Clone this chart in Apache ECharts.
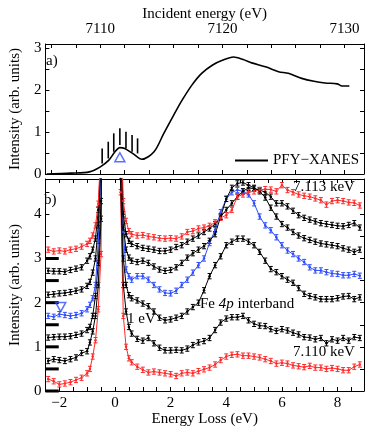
<!DOCTYPE html>
<html>
<head>
<meta charset="utf-8">
<style>
html, body { margin: 0; padding: 0; background: #fff; }
#chart { width: 374px; height: 428px; }
</style>
<script src="https://cdn.jsdelivr.net/npm/echarts@6/dist/echarts.min.js"></script>
</head>
<body>
<div id="chart"></div>
<script>
// ---- panel a) PFY-XANES ----
var xanesE = [7105.6, 7107.6, 7109.1, 7110.0, 7110.7, 7111.2, 7111.6, 7112.0, 7112.7, 7113.4,
    7114.4, 7115.2, 7116.0, 7116.7, 7117.5, 7118.3, 7119.2, 7120.0, 7120.9, 7121.7,
    7122.4, 7123.6, 7124.6, 7125.4, 7126.5, 7127.5, 7128.4, 7129.4, 7129.8, 7130.4];
var xanesI = [0.00, 0.02, 0.05, 0.17, 0.33, 0.53, 0.63, 0.61, 0.48, 0.35,
    0.53, 0.97, 1.40, 1.76, 2.12, 2.40, 2.60, 2.71, 2.79, 2.73,
    2.65, 2.55, 2.44, 2.40, 2.28, 2.21, 2.17, 2.15, 2.10, 2.10];

// incident energies of the RIXS cuts (vertical bars)
var barE = [7110.15, 7110.65, 7111.1, 7111.6, 7112.1, 7112.6, 7113.05];
var barLow = [0.25, 0.37, 0.53, 0.69, 0.61, 0.53, 0.49];
var barHigh = [0.61, 0.77, 0.97, 1.09, 1.01, 0.93, 0.85];
var triA = [7111.6, 0.40];

var tickAx = [7110, 7120, 7130];
var tickAy = [0, 1, 2, 3];

// ---- panel b) RIXS spectra, offset by 0.5 ----
var loss = [-2.4, -2.2, -2.0, -1.8, -1.6, -1.4, -1.2, -1.0, -0.9, -0.8, -0.7, -0.6, -0.5, -0.15, 0.2,
    0.3, 0.4, 0.5, 0.6, 0.8, 1.0, 1.2, 1.4, 1.6, 1.8, 2.0, 2.2, 2.4, 2.6, 2.8,
    3.0, 3.2, 3.4, 3.6, 3.8, 4.0, 4.2, 4.4, 4.6, 4.8, 5.0, 5.2, 5.4, 5.6, 5.8,
    6.0, 6.2, 6.4, 6.6, 6.8, 7.0, 7.2, 7.4, 7.6, 7.8, 8.0, 8.2, 8.4, 8.6, 8.8];

var spec7110 = [0.27, 0.22, 0.15, 0.17, 0.20, 0.25, 0.30, 0.40, 0.50, 0.78, 1.15, 1.85, 3.10, 60, 4.50,
    1.70, 1.00, 0.74, 0.65, 0.55, 0.48, 0.42, 0.44, 0.42, 0.40, 0.38, 0.34, 0.40, 0.42, 0.40,
    0.45, 0.49, 0.53, 0.60, 0.70, 0.78, 0.82, 0.83, 0.80, 0.80, 0.78, 0.76, 0.72, 0.68, 0.62,
    0.64, 0.62, 0.58, 0.56, 0.54, 0.57, 0.53, 0.53, 0.50, 0.52, 0.50, 0.47, 0.47, 0.55, 0.60];
var spec7110h = [0.68, 0.72, 0.70, 0.68, 0.72, 0.76, 0.86, 0.90, 1.10, 1.35, 1.70, 2.40, 3.90, 60, 4.80,
    2.40, 1.80, 1.45, 1.30, 1.18, 1.14, 1.20, 1.08, 0.98, 0.92, 0.92, 0.93, 0.92, 0.96, 1.04,
    1.10, 1.13, 1.20, 1.38, 1.55, 1.64, 1.67, 1.67, 1.70, 1.60, 1.52, 1.48, 1.47, 1.40, 1.36,
    1.40, 1.37, 1.32, 1.28, 1.22, 1.21, 1.17, 1.20, 1.08, 1.17, 1.14, 1.20, 1.14, 1.22, 1.20];
var spec7111 = [1.21, 1.22, 1.23, 1.23, 1.24, 1.27, 1.30, 1.38, 1.45, 1.70, 2.15, 2.90, 4.30, 60, 5.20,
    3.00, 2.40, 2.17, 2.10, 2.05, 1.98, 1.92, 1.80, 1.66, 1.60, 1.62, 1.66, 1.70, 1.80, 1.90,
    2.00, 2.28, 2.60, 2.85, 3.05, 3.30, 3.38, 3.45, 3.45, 3.38, 3.30, 3.15, 2.95, 2.76, 2.69,
    2.60, 2.52, 2.45, 2.33, 2.20, 2.15, 2.12, 2.08, 2.08, 2.08, 2.10, 2.14, 2.15, 2.08, 2.12];
var spec7111h = [1.70, 1.68, 1.74, 1.72, 1.70, 1.72, 1.76, 1.85, 1.95, 2.10, 2.40, 3.40, 5.20, 60, 5.50,
    3.60, 2.75, 2.60, 2.52, 2.60, 2.60, 2.52, 2.40, 2.30, 2.22, 2.21, 2.27, 2.40, 2.52, 2.68,
    2.85, 3.00, 3.35, 3.65, 4.05, 4.35, 4.50, 4.55, 4.52, 4.45, 4.25, 3.95, 3.75, 3.64, 3.48,
    3.30, 3.18, 3.10, 3.00, 2.92, 2.80, 2.73, 2.73, 2.69, 2.66, 2.65, 2.62, 2.62, 2.65, 2.61];
var spec7112 = [2.18, 2.19, 2.21, 2.22, 2.24, 2.27, 2.30, 2.38, 2.47, 2.68, 3.00, 3.75, 5.20, 60, 5.80,
    3.70, 3.20, 3.02, 2.95, 2.92, 2.95, 2.90, 2.82, 2.75, 2.72, 2.74, 2.80, 2.90, 3.02, 3.12,
    3.20, 3.28, 3.40, 3.55, 3.95, 4.35, 4.60, 4.70, 4.72, 4.66, 4.60, 4.52, 4.38, 4.15, 3.95,
    3.78, 3.70, 3.60, 3.52, 3.46, 3.42, 3.38, 3.34, 3.32, 3.30, 3.28, 3.23, 3.20, 3.15, 3.20];
var spec7112h = [2.72, 2.71, 2.71, 2.70, 2.74, 2.77, 2.80, 2.95, 3.05, 3.20, 3.45, 4.10, 5.40, 60, 6.00,
    4.00, 3.55, 3.40, 3.33, 3.28, 3.24, 3.22, 3.20, 3.17, 3.17, 3.20, 3.26, 3.30, 3.38, 3.45,
    3.52, 3.60, 3.68, 3.78, 3.95, 4.10, 4.25, 4.40, 4.52, 4.60, 4.58, 4.55, 4.50, 4.40, 4.25,
    4.25, 4.18, 4.08, 3.98, 3.92, 3.88, 3.84, 3.80, 3.78, 3.76, 3.74, 3.73, 3.76, 3.80, 3.70];
var spec7113 = [3.20, 3.16, 3.18, 3.16, 3.20, 3.22, 3.27, 3.33, 3.40, 3.52, 3.75, 4.24, 5.60, 60, 6.50,
    4.30, 3.85, 3.62, 3.55, 3.52, 3.53, 3.50, 3.48, 3.46, 3.45, 3.46, 3.45, 3.50, 3.60, 3.62,
    3.68, 3.70, 3.74, 3.82, 3.92, 3.98, 4.10, 4.40, 4.45, 4.50, 4.52, 4.55, 4.57, 4.56, 4.52,
    4.66, 4.55, 4.50, 4.45, 4.42, 4.40, 4.36, 4.32, 4.22, 4.30, 4.32, 4.30, 4.27, 4.26, 4.20];

var spectra = [
    {data: spec7110, color: '#ff2a2a'},
    {data: spec7110h, color: '#000000'},
    {data: spec7111, color: '#000000'},
    {data: spec7111h, color: '#2f4dff'},
    {data: spec7112, color: '#000000'},
    {data: spec7112h, color: '#000000'},
    {data: spec7113, color: '#ff2a2a'}
];
var errHalf = 0.06;

var offsetMarks = [0, 0.5, 1.0, 1.5, 2.0, 2.5, 3.0];
var markSpan = [-2.5, -2.02];
var triB = [-1.95, 1.9];

var tickBx = [-2, 0, 2, 4, 6, 8];
var tickBy = [0, 1, 2, 3, 4];

var FONT = 'Liberation Serif';
var aMin = 7105.5, aMax = 7131.6, aYMax = 3.1;
var bMin = -2.5, bMax = 8.95, bYMax = 4.8;

function stepTicks(from, to, step) {
    var out = [];
    for (var v = from; v <= to + 1e-9; v += step) {
        out.push(+v.toFixed(3));
    }
    return out;
}

function fmt(v) {
    return v < 0 ? '\u2212' + (-v) : String(v);
}

/**
 * 坐标轴(带向内刻度, 四边都画)
 */
function makeAxis(grid, pos, min, max, ticks, labels, name, nameGap, labelMargin) {
    return {
        type: 'value',
        gridIndex: grid,
        position: pos,
        min: min,
        max: max,
        name: name || '',
        nameLocation: 'middle',
        nameGap: nameGap || 0,
        nameTextStyle: {fontFamily: FONT, fontSize: 15, color: '#000'},
        axisLine: {show: true, onZero: false, lineStyle: {color: '#000', width: 1}},
        axisTick: {show: true, inside: true, length: 4, customValues: ticks, lineStyle: {color: '#000', width: 1}},
        axisLabel: labels ? {
            show: true, customValues: labels, formatter: fmt, margin: labelMargin,
            fontFamily: FONT, fontSize: 15, color: '#000'
        } : {show: false},
        splitLine: {show: false}
    };
}

function errorBarItem(color) {
    return function (params, api) {
        var x = api.value(0), y = api.value(1);
        var top = api.coord([x, y + errHalf]);
        var bot = api.coord([x, y - errHalf]);
        var w = 2;
        var st = {stroke: color, lineWidth: 1};
        return {
            type: 'group',
            children: [
                {type: 'line', shape: {x1: top[0], y1: top[1], x2: bot[0], y2: bot[1]}, style: st},
                {type: 'line', shape: {x1: top[0] - w, y1: top[1], x2: top[0] + w, y2: top[1]}, style: st},
                {type: 'line', shape: {x1: bot[0] - w, y1: bot[1], x2: bot[0] + w, y2: bot[1]}, style: st}
            ]
        };
    };
}

var series = [
    {
        name: 'PFY\u2212XANES',
        type: 'line',
        xAxisIndex: 0,
        yAxisIndex: 0,
        data: xanesE.map(function (e, i) { return [e, xanesI[i]]; }),
        symbol: 'none',
        smooth: 0.3,
        lineStyle: {color: '#000', width: 1.6},
        itemStyle: {color: '#000'}
    },
    {
        type: 'custom',
        xAxisIndex: 0,
        yAxisIndex: 0,
        data: barE.map(function (e, i) { return [e, barLow[i], barHigh[i]]; }),
        encode: {x: 0, y: [1, 2]},
        renderItem: function (params, api) {
            var a = api.coord([api.value(0), api.value(1)]);
            var b = api.coord([api.value(0), api.value(2)]);
            return {type: 'line', shape: {x1: a[0], y1: a[1], x2: b[0], y2: b[1]},
                style: {stroke: '#000', lineWidth: 1.6}};
        }
    },
    {
        type: 'scatter',
        xAxisIndex: 0,
        yAxisIndex: 0,
        data: [triA],
        symbol: 'triangle',
        symbolSize: [10, 9],
        itemStyle: {color: 'none', borderColor: '#2f4dff', borderWidth: 1.5}
    },
    {
        type: 'custom',
        xAxisIndex: 2,
        yAxisIndex: 2,
        data: offsetMarks.map(function (v) { return [markSpan[0], v]; }),
        encode: {x: 0, y: 1},
        renderItem: function (params, api) {
            var a = api.coord([markSpan[0], api.value(1)]);
            var b = api.coord([markSpan[1], api.value(1)]);
            return {type: 'line', shape: {x1: a[0], y1: a[1], x2: b[0], y2: b[1]},
                style: {stroke: '#000', lineWidth: 3}};
        }
    },
    {
        type: 'scatter',
        xAxisIndex: 2,
        yAxisIndex: 2,
        data: [triB],
        symbol: 'triangle',
        symbolRotate: 180,
        symbolSize: [10, 9],
        itemStyle: {color: 'none', borderColor: '#2f4dff', borderWidth: 1.5},
        z: 5
    }
];

spectra.forEach(function (s) {
    var pts = loss.map(function (x, i) { return [x, s.data[i]]; });
    series.push({
        type: 'line',
        xAxisIndex: 2,
        yAxisIndex: 2,
        data: pts,
        clip: true,
        symbol: 'circle',
        symbolSize: 2.5,
        showAllSymbol: true,
        lineStyle: {color: s.color, width: 1},
        itemStyle: {color: s.color},
        emphasis: {disabled: true}
    });
    series.push({
        type: 'custom',
        xAxisIndex: 2,
        yAxisIndex: 2,
        clip: true,
        data: pts.filter(function (p) { return p[1] < bYMax; }),
        encode: {x: 0, y: 1},
        renderItem: errorBarItem(s.color)
    });
});

var chart = echarts.init(document.getElementById('chart'));

var txt = {font: '15px "Liberation Serif"', fill: '#000'};

var option = {
    animation: false,
    backgroundColor: '#fff',
    grid: [
        {left: 35, top: 44, right: 10, height: 130},
        {left: 35, top: 179, right: 10, height: 212}
    ],
    legend: {
        data: [{name: 'PFY\u2212XANES', icon: 'rect'}],
        left: 230,
        top: 148,
        itemWidth: 33,
        itemHeight: 2,
        textStyle: {fontFamily: FONT, fontSize: 15, color: '#000'}
    },
    xAxis: [
        makeAxis(0, 'top', aMin, aMax, stepTicks(7106, 7130, 2), tickAx, 'Incident energy (eV)', 20, 7),
        makeAxis(0, 'bottom', aMin, aMax, stepTicks(7106, 7130, 2), null),
        makeAxis(1, 'bottom', bMin, bMax, stepTicks(-2.5, 8.5, 0.5), tickBx, 'Energy Loss (eV)', 21, 5),
        makeAxis(1, 'top', bMin, bMax, stepTicks(-2.5, 8.5, 0.5), null)
    ],
    yAxis: [
        makeAxis(0, 'left', 0, aYMax, stepTicks(0, 3, 0.5), tickAy, 'Intensity (arb. units)', 18, 4),
        makeAxis(0, 'right', 0, aYMax, stepTicks(0, 3, 0.5), null),
        makeAxis(1, 'left', 0, bYMax, stepTicks(0, 4.5, 0.5), tickBy, 'Intensity (arb. units)', 18, 4),
        makeAxis(1, 'right', 0, bYMax, stepTicks(0, 4.5, 0.5), null)
    ],
    graphic: [
        {type: 'text', z: 100, left: 46, top: 54, style: Object.assign({text: 'a)'}, txt)},
        {type: 'text', z: 100, left: 44, top: 193, style: Object.assign({text: 'b)'}, txt)},
        {type: 'text', z: 100, left: 293, top: 180, style: Object.assign({text: '7.113 keV'}, txt)},
        {type: 'text', z: 100, left: 293, top: 345, style: Object.assign({text: '7.110 keV'}, txt)},
        {type: 'text', z: 100, left: 127, top: 312, style: Object.assign({text: '1 eV'}, txt)},
        {
            type: 'text', z: 100, left: 200, top: 297,
            style: {
                text: '{n|Fe }{i|4p}{n| interband}',
                rich: {
                    n: {fontFamily: FONT, fontSize: 15, color: '#000'},
                    i: {fontFamily: FONT, fontSize: 15, fontStyle: 'italic', color: '#000'}
                }
            }
        }
    ],
    series: series
};

chart.setOption(option);
</script>
</body>
</html>
